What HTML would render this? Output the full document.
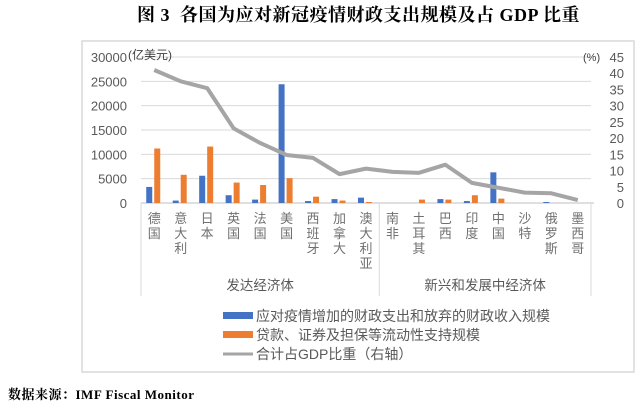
<!DOCTYPE html>
<html><head><meta charset="utf-8">
<style>
body{margin:0;width:640px;height:408px;background:#fff;overflow:hidden;position:relative;font-family:"Liberation Sans","Noto Sans CJK SC",sans-serif}
#title{position:absolute;left:137px;width:460px;top:1px;white-space:nowrap;font:bold 18px "Liberation Serif","Noto Serif CJK SC",serif;color:#000;letter-spacing:0.5px}
#src{position:absolute;left:8px;top:384px;font:bold 13px "Liberation Serif","Noto Serif CJK SC",serif;color:#000;letter-spacing:0.5px}
svg{position:absolute;left:0;top:0}
</style></head><body>
<div id="title">图 3&nbsp;&nbsp;各国为应对新冠疫情财政支出规模及占 GDP 比重</div>
<div id="src">数据来源：IMF Fiscal Monitor</div>
<svg id="c" width="640" height="408"></svg>
<script>
const categories=["德国","意大利","日本","英国","法国","美国","西班牙","加拿大","澳大利亚","南非","土耳其","巴西","印度","中国","沙特","俄罗斯","墨西哥"];
const fiscalSpending=[3300,500,5600,1600,700,24400,400,800,1100,0,0,800,400,6300,0,200,0];
const liquiditySupport=[11200,5800,11600,4200,3700,5100,1300,500,200,0,700,700,1600,900,0,0,0];
const gdpShare=[41,37.5,35.4,23,18.5,14.8,13.9,8.9,10.6,9.6,9.3,11.8,6.2,4.7,3.2,3.0,0.9];
const leftTicks=[0,5000,10000,15000,20000,25000,30000];
const rightTicks=[0,5,10,15,20,25,30,35,40,45];
const groups=[{name:"发达经济体",from:0,to:9},{name:"新兴和发展中经济体",from:9,to:17}];

const S="http://www.w3.org/2000/svg",svg=document.getElementById('c');
const X0=141,X1=591,Y0=203,Y1=57;
const bw=(X1-X0)/categories.length;
const yL=v=>Y0-(v/30000)*(Y0-Y1);
const yR=v=>Y0-(v/45)*(Y0-Y1);
const cx=i=>X0+bw*(i+0.5);
function el(t,a,txt){const e=document.createElementNS(S,t);for(const k in a)e.setAttribute(k,a[k]);if(txt!=null)e.textContent=txt;svg.appendChild(e);return e;}

let f=el('rect',{x:82,y:41,width:552,height:331,fill:'none',stroke:'#d9d9d9','stroke-width':1.5});


leftTicks.forEach(v=>{
  let g=el('line',{x1:X0,x2:X1,y1:yL(v),y2:yL(v),stroke:'#d9d9d9','stroke-width':1});
  
  let t=el('text',{x:127,y:yL(v)+5,'text-anchor':'end','font-size':13,fill:'#595959'},v);
  
});
rightTicks.forEach(v=>{
  let t=el('text',{x:624,y:yR(v)+5,'text-anchor':'end','font-size':13,fill:'#595959'},v);
  
});
let u1=el('text',{x:128,y:59,'font-size':12,fill:'#404040'},'(亿美元)');

let u2=el('text',{x:583,y:61,'font-size':11,fill:'#404040'},'(%)');


let ax=el('line',{x1:X0,x2:X1+3,y1:Y0,y2:Y0,stroke:'#bfbfbf'});

[0,9,17].forEach(i=>{
  let l=el('line',{x1:X0+bw*i,x2:X0+bw*i,y1:Y0,y2:296,stroke:'#d9d9d9'});
  
});

categories.forEach((c,i)=>{
  let b=el('rect',{x:cx(i)-8,y:yL(fiscalSpending[i]),width:6,height:Y0-yL(fiscalSpending[i]),fill:'#4472c4'});
  
  let o=el('rect',{x:cx(i),y:yL(liquiditySupport[i]),width:6,height:Y0-yL(liquiditySupport[i]),fill:'#ed7d31'});
  
  [...c].forEach((ch,k)=>{
    let t=el('text',{x:cx(i),y:223+k*15,'text-anchor':'middle','font-size':13,fill:'#707070'},ch);
    
  });
});
groups.forEach(g=>{
  let t=el('text',{x:X0+bw*(g.from+g.to)/2,y:290,'text-anchor':'middle','font-size':13.5,fill:'#595959'},g.name);
  
});

let line=el('polyline',{points:gdpShare.map((v,i)=>cx(i)+','+yR(v)).join(' '),fill:'none',stroke:'#a5a5a5','stroke-width':4,'stroke-linejoin':'round'});


const legend=[['#4472c4','应对疫情增加的财政支出和放弃的财政收入规模','bar'],['#ed7d31','贷款、证券及担保等流动性支持规模','bar'],['#a5a5a5','合计占GDP比重（右轴）','line']];
legend.forEach((l,k)=>{
  const y=316+k*19;
  let s=l[2]=='bar'?el('rect',{x:223,y:y-4,width:30,height:7,fill:l[0]}):el('line',{x1:223,x2:253,y1:y,y2:y,stroke:l[0],'stroke-width':3});
  
  let t=el('text',{x:256,y:y+5,'font-size':14,fill:'#595959'},l[1]);
  
});
</script>
</body></html>
